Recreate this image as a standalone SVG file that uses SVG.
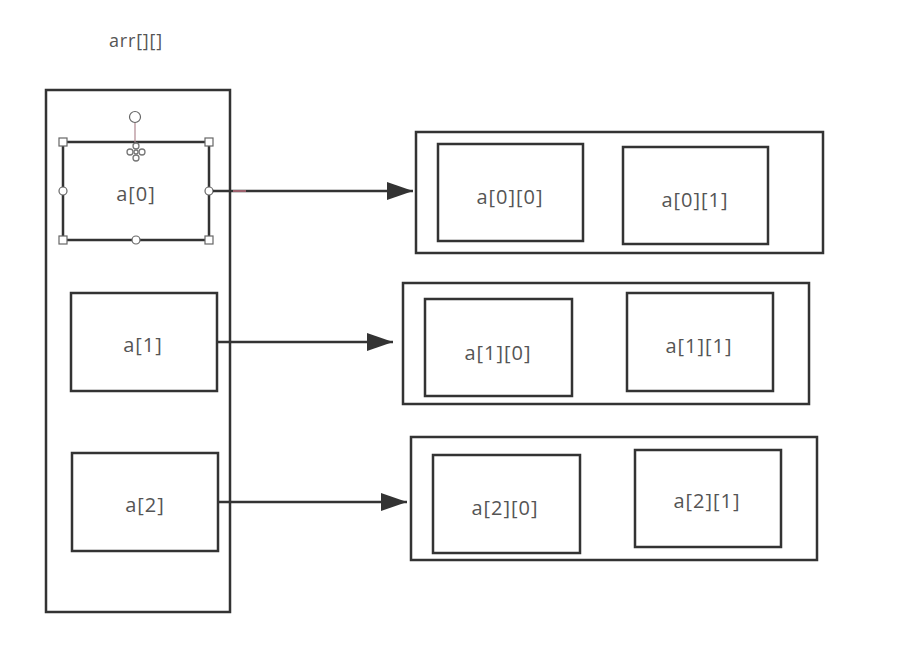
<svg xmlns="http://www.w3.org/2000/svg" width="918" height="672" viewBox="0 0 918 672">
<defs>
<style>
.box{fill:#fff;stroke:#333;stroke-width:2.5}
.lbl{font-family:"Open Sans","Noto Sans",sans-serif;font-size:20px;letter-spacing:1px;fill:#555;text-anchor:middle;dominant-baseline:central}
.conn{stroke:#333;stroke-width:2.5;fill:none}
.hdl{fill:#fff;stroke:#666;stroke-width:1.2}
</style>
<marker id="arrL" viewBox="0 0 10 10" refX="10" refY="5" markerWidth="26" markerHeight="18" markerUnits="userSpaceOnUse" orient="auto" preserveAspectRatio="none">
<path d="M0,0 L10,5 L0,10 Z" fill="#333"/>
</marker>
</defs>
<rect width="918" height="672" fill="#fff"/>
<text class="lbl" x="136" y="40" style="font-size:18px;letter-spacing:0.8px">arr[][]</text>

<g id="outer">
<rect class="box" x="46" y="90" width="184" height="522"/>
</g>

<g id="a0">
<rect class="box" x="63" y="142" width="146" height="98"/>
<text class="lbl" x="136" y="193">a[0]</text>
<g id="a0-handles">
<line x1="135" y1="122" x2="135" y2="142" stroke="#b08890" stroke-width="1.2"/>
<circle class="hdl" cx="135" cy="117" r="5.5"/>
<rect class="hdl" x="59" y="138" width="8" height="8"/>
<rect class="hdl" x="205" y="138" width="8" height="8"/>
<rect class="hdl" x="59" y="236" width="8" height="8"/>
<rect class="hdl" x="205" y="236" width="8" height="8"/>
<circle class="hdl" cx="63" cy="191" r="4"/>
<circle class="hdl" cx="209" cy="191" r="4"/>
<circle class="hdl" cx="136" cy="240" r="4"/>
<g fill="#fff" stroke="#777" stroke-width="1.3">
<circle cx="136" cy="146" r="3"/>
<circle cx="130" cy="152" r="3"/>
<circle cx="142" cy="152" r="3"/>
<circle cx="136" cy="152" r="2"/>
<circle cx="136" cy="158" r="3"/>
</g>
</g>
</g>

<g id="a1">
<rect class="box" x="71" y="293" width="146" height="98"/>
<text class="lbl" x="143" y="344">a[1]</text>
</g>

<g id="a2">
<rect class="box" x="72" y="453" width="146" height="98"/>
<text class="lbl" x="145" y="504">a[2]</text>
</g>

<g id="row0">
<rect class="box" x="416" y="132" width="407" height="121"/>
<g id="a00">
<rect class="box" x="438" y="144" width="145" height="97"/>
<text class="lbl" x="510" y="196">a[0][0]</text>
</g>
<g id="a01">
<rect class="box" x="623" y="147" width="145" height="97"/>
<text class="lbl" x="695" y="199">a[0][1]</text>
</g>
</g>

<g id="row1">
<rect class="box" x="403" y="283" width="406" height="121"/>
<g id="a10">
<rect class="box" x="425" y="299" width="147" height="97"/>
<text class="lbl" x="498" y="352">a[1][0]</text>
</g>
<g id="a11">
<rect class="box" x="627" y="293" width="146" height="98"/>
<text class="lbl" x="699" y="345">a[1][1]</text>
</g>
</g>

<g id="row2">
<rect class="box" x="411" y="437" width="406" height="123"/>
<g id="a20">
<rect class="box" x="433" y="455" width="147" height="98"/>
<text class="lbl" x="505" y="507">a[2][0]</text>
</g>
<g id="a21">
<rect class="box" x="635" y="450" width="146" height="97"/>
<text class="lbl" x="707" y="500">a[2][1]</text>
</g>
</g>

<g id="connectors">
<line class="conn" x1="213" y1="191" x2="413" y2="191" marker-end="url(#arrL)"/>
<line x1="233" y1="191" x2="246" y2="191" stroke="#c07080" stroke-width="1.5"/>
<line class="conn" x1="217" y1="342" x2="393" y2="342" marker-end="url(#arrL)"/>
<line class="conn" x1="218" y1="502" x2="407" y2="502" marker-end="url(#arrL)"/>
</g>
</svg>
